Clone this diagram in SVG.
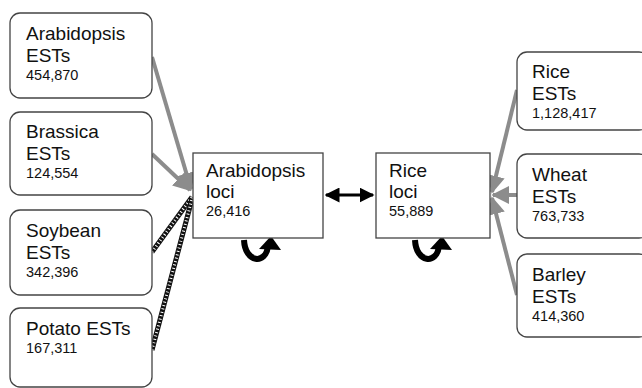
<svg xmlns="http://www.w3.org/2000/svg" width="642" height="388" viewBox="0 0 642 388">
<style>
.box{fill:#fff;stroke:#444;stroke-width:1.3}
.t{font-family:"Liberation Sans",Arial,sans-serif;font-size:19px;fill:#111}
.n{font-family:"Liberation Sans",Arial,sans-serif;font-size:14.5px;fill:#111}
.g{stroke:#8c8c8c;stroke-width:4;fill:none}
.hb{stroke:#111;stroke-width:5;fill:none}
.hw{stroke:#fff;stroke-width:3;stroke-dasharray:1 2.5;fill:none}
</style>
<defs>
<marker id="ga" viewBox="0 0 10 10" refX="9" refY="5" markerWidth="4.5" markerHeight="4.5" orient="auto" markerUnits="strokeWidth"><path d="M0,0L10,5L0,10z" fill="#8c8c8c"/></marker>
<marker id="ba" viewBox="0 0 10 10" refX="9" refY="5" markerWidth="5" markerHeight="5" orient="auto-start-reverse" markerUnits="strokeWidth"><path d="M0,0L10,5L0,10z" fill="#000"/></marker>
</defs>
<g id="connectors">
<line class="g" x1="152" y1="57" x2="191" y2="189" marker-end="url(#ga)"/>
<line class="g" x1="152" y1="154" x2="190" y2="190" marker-end="url(#ga)"/>
<line class="hb" x1="152" y1="252" x2="192" y2="197"/>
<line class="hw" x1="152" y1="252" x2="192" y2="197"/>
<line class="hb" x1="152" y1="350" x2="192" y2="199"/>
<line class="hw" x1="152" y1="350" x2="192" y2="199"/>
<line class="g" x1="517" y1="90" x2="492" y2="192" marker-end="url(#ga)"/>
<line class="g" x1="517" y1="195" x2="493" y2="195" marker-end="url(#ga)"/>
<line class="g" x1="517" y1="295" x2="492" y2="198" marker-end="url(#ga)"/>
<line x1="326" y1="195" x2="373" y2="195" stroke="#000" stroke-width="3" marker-start="url(#ba)" marker-end="url(#ba)"/>
<path d="M244,240 C245,263 266,265 268,246" stroke="#000" stroke-width="6" fill="none"/>
<path d="M259,249 L271,236 L281,250 z" fill="#000"/>
<path d="M415,240 C416,263 437,265 439,246" stroke="#000" stroke-width="6" fill="none"/>
<path d="M430,249 L442,236 L452,250 z" fill="#000"/>
</g>
<g id="arabidopsis-ests"><rect class="box" x="10" y="13" width="142" height="85" rx="10"/><text class="t" x="26" y="40">Arabidopsis</text><text class="t" x="26" y="62">ESTs</text><text class="n" x="26" y="80">454,870</text></g>
<g id="brassica-ests"><rect class="box" x="10" y="112" width="142" height="83" rx="10"/><text class="t" x="26" y="138">Brassica</text><text class="t" x="26" y="160">ESTs</text><text class="n" x="26" y="178">124,554</text></g>
<g id="soybean-ests"><rect class="box" x="10" y="210" width="142" height="85" rx="10"/><text class="t" x="26" y="237">Soybean</text><text class="t" x="26" y="259">ESTs</text><text class="n" x="26" y="277">342,396</text></g>
<g id="potato-ests"><rect class="box" x="10" y="308" width="142" height="79" rx="10"/><text class="t" x="26" y="335">Potato ESTs</text><text class="n" x="26" y="353">167,311</text></g>
<g id="arabidopsis-loci"><rect class="box" x="193" y="153" width="130" height="85"/><text class="t" x="206" y="177">Arabidopsis</text><text class="t" x="206" y="198">loci</text><text class="n" x="206" y="216">26,416</text></g>
<g id="rice-loci"><rect class="box" x="376" y="153" width="114" height="85"/><text class="t" x="389" y="177">Rice</text><text class="t" x="389" y="198">loci</text><text class="n" x="389" y="216">55,889</text></g>
<g id="rice-ests"><rect class="box" x="517" y="52" width="132" height="78" rx="10"/><text class="t" x="532" y="78">Rice</text><text class="t" x="532" y="100">ESTs</text><text class="n" x="532" y="118">1,128,417</text></g>
<g id="wheat-ests"><rect class="box" x="517" y="154" width="132" height="84" rx="10"/><text class="t" x="532" y="181">Wheat</text><text class="t" x="532" y="203">ESTs</text><text class="n" x="532" y="221">763,733</text></g>
<g id="barley-ests"><rect class="box" x="517" y="254" width="132" height="83" rx="10"/><text class="t" x="532" y="281">Barley</text><text class="t" x="532" y="303">ESTs</text><text class="n" x="532" y="321">414,360</text></g>
</svg>
